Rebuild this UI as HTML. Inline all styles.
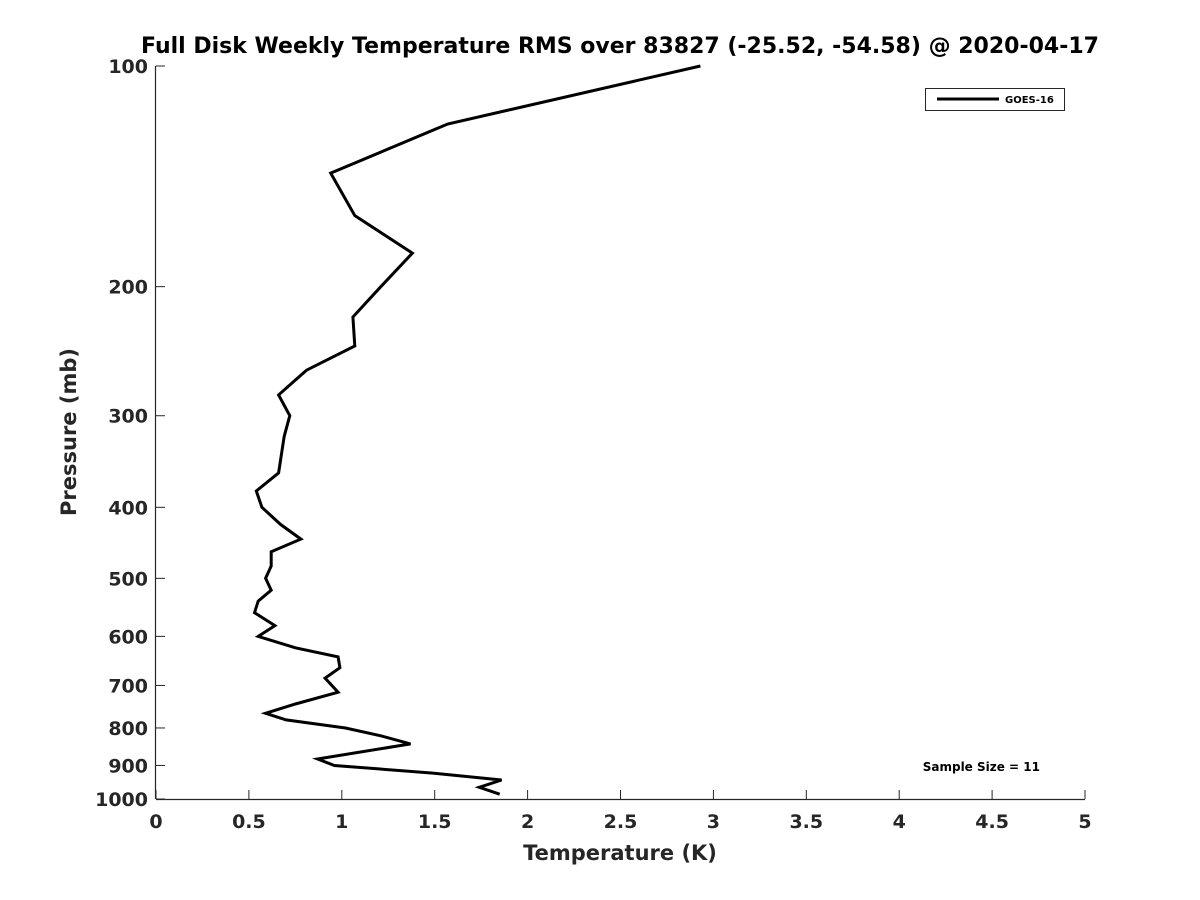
<!DOCTYPE html>
<html><head><meta charset="utf-8"><style>
html,body{margin:0;padding:0;background:#fff;}
svg{display:block;font-family:"DejaVu Sans","Liberation Sans",sans-serif;}
</style></head><body>
<svg id="chart" width="1200" height="900" viewBox="0 0 1200 900">
<text x="620" y="53" text-anchor="middle" font-size="22" font-weight="bold" fill="#000">Full Disk Weekly Temperature RMS over 83827 (-25.52, -54.58) @ 2020-04-17</text>
<g id="axes"></g>
<g id="plot"></g>
<text x="620" y="860" text-anchor="middle" font-size="21" font-weight="bold" fill="#262626">Temperature (K)</text>
<text transform="translate(76,432) rotate(-90)" text-anchor="middle" font-size="21" font-weight="bold" fill="#262626">Pressure (mb)</text>
<g>
<rect x="925.5" y="88.5" width="139" height="22" fill="#fff" stroke="#262626" stroke-width="1"/>
<line x1="937" y1="99" x2="999" y2="99" stroke="#000" stroke-width="3"/>
<text x="1005" y="103" font-size="10" font-weight="bold" fill="#000">GOES-16</text>
</g>
<text x="1040" y="771" text-anchor="end" font-size="12" font-weight="bold" fill="#000">Sample Size = 11</text>
</svg>
<script>
const temps = [2.93,1.57,0.94,1.07,1.38,1.21,1.06,1.07,0.81,0.66,0.72,0.69,0.66,0.54,0.57,0.67,0.78,0.62,0.62,0.59,0.62,0.55,0.53,0.64,0.55,0.75,0.98,0.99,0.91,0.98,0.75,0.59,0.70,1.02,1.21,1.37,0.87,0.96,1.49,1.86,1.74,1.85];
const pressures = [100,120,140,160,180,200,220,241,260,281,300,320,359,380,400,422,442,460,481,500,519,537,557,580,600,622,640,662,684,715,742,764,780,800,820,841,882,900,922,942,964,985];
const xTicks = [0,0.5,1,1.5,2,2.5,3,3.5,4,4.5,5];
const xTickLabels = ["0","0.5","1","1.5","2","2.5","3","3.5","4","4.5","5"];
const yTicks = [100,200,300,400,500,600,700,800,900,1000];
const yTickLabels = ["100","200","300","400","500","600","700","800","900","1000"];

const X0=156,X1=1085,Y0=66,Y1=799;
function xs(v){return X0+(v-0)/(5-0)*(X1-X0);}
function ys(p){return Y0+(Math.log10(p)-2)/(1)*(Y1-Y0);}
const NS="http://www.w3.org/2000/svg";
const axes=document.getElementById('axes'), plot=document.getElementById('plot');
function mk(tag,attrs,parent){const e=document.createElementNS(NS,tag);for(const k in attrs)e.setAttribute(k,attrs[k]);parent.appendChild(e);return e;}

const xa=mk('line',{x1:X0,y1:Y1+0.5,x2:X1,y2:Y1+0.5,stroke:'#262626','stroke-width':1.2},axes);


const ya=mk('line',{x1:X0-0.5,y1:Y0,x2:X0-0.5,y2:Y1,stroke:'#262626','stroke-width':1.2},axes);



xTicks.forEach((t,i)=>{
  const x=xs(t);
  const tk=mk('line',{x1:x,y1:Y1,x2:x,y2:Y1-9,stroke:'#262626','stroke-width':1},axes);
  
  
  const tx=mk('text',{x:x,y:Y1+29,'text-anchor':'middle','font-size':19,'font-weight':'bold',fill:'#262626'},axes);
  tx.textContent=xTickLabels[i];
  
  
});
yTicks.forEach((t,i)=>{
  const y=ys(t);
  const tk=mk('line',{x1:X0,y1:y,x2:X0+9,y2:y,stroke:'#262626','stroke-width':1},axes);
  
  
  const tx=mk('text',{x:X0-8,y:y+7,'text-anchor':'end','font-size':19,'font-weight':'bold',fill:'#262626'},axes);
  tx.textContent=yTickLabels[i];
  
  
});
const pts=temps.map((t,i)=>xs(t).toFixed(1)+','+ys(pressures[i]).toFixed(1)).join(' ');
const line=mk('polyline',{points:pts,fill:'none',stroke:'#000','stroke-width':3,'stroke-linejoin':'miter'},plot);


</script>
</body></html>
